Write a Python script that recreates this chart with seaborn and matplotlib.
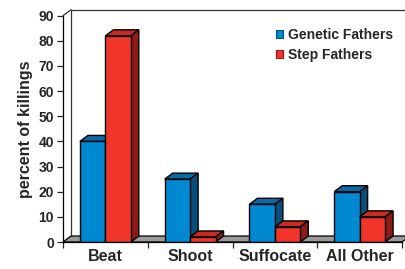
import numpy as np
import pandas as pd
import matplotlib
matplotlib.use("Agg")
import matplotlib.pyplot as plt
from matplotlib.patches import Polygon, Patch
import seaborn as sns

sns.set_style("white")
plt.rcParams['font.family'] = ['Liberation Sans', 'DejaVu Sans']

methods = ['Beat', 'Shoot', 'Suffocate', 'All Other']
genetic = [40, 25, 15, 20]
step = [82, 2, 6, 10]
series = ['Genetic Fathers', 'Step Fathers']

# front / top / side shades for the fake 3d look
blue = ['#0088d1', '#0a6aa6', '#064f7c']
red = ['#f2352b', '#c92a22', '#8c1a15']

df = pd.DataFrame({
    'method': methods * 2,
    'pct': genetic + step,
    'father': [series[0]] * 4 + [series[1]] * 4,
})

fig = plt.figure(figsize=(4.05, 2.69), dpi=100)
ax = fig.add_axes([63 / 405, 27 / 269, 339 / 405, 226.3 / 269])

sns.barplot(data=df, x='method', y='pct', hue='father', palette=[blue[0], red[0]],
            width=0.6, saturation=1, edgecolor='black', linewidth=1.0, ax=ax,
            legend=False)

ax.set_xlim(-0.5, 3.5)
ax.set_ylim(0, 90)

# depth offset, in pixels -> data units
inv = ax.transData.inverted()
p0 = inv.transform((0, 0))
p1 = inv.transform((8, 6))
dx, dy = p1 - p0

shades = [blue, red]
for k, cont in enumerate(ax.containers):
    for bar in cont.patches:
        x0 = bar.get_x()
        x1 = x0 + bar.get_width()
        h = bar.get_height()
        z = 2 + k * 0.2
        bar.set_zorder(z + 0.1)
        top = Polygon([(x0, h), (x1, h), (x1 + dx, h + dy), (x0 + dx, h + dy)],
                      closed=True, facecolor=shades[k][1], edgecolor='black',
                      linewidth=1.0, zorder=z, clip_on=False)
        side = Polygon([(x1, 0), (x1 + dx, dy), (x1 + dx, h + dy), (x1, h)],
                       closed=True, facecolor=shades[k][2], edgecolor='black',
                       linewidth=1.0, zorder=z, clip_on=False)
        ax.add_patch(top)
        ax.add_patch(side)

# floor and back wall
xmin, xmax = -0.5, 3.5
floor = Polygon([(xmin, 0), (xmax, 0), (xmax + dx, dy), (xmin + dx, dy)], closed=True,
                facecolor='#9a9a9a', edgecolor='black', linewidth=0.9, zorder=1,
                clip_on=False)
ax.add_patch(floor)
ax.plot([xmin, xmin + dx], [90, 90 + dy], color='#333333', lw=0.9, clip_on=False, zorder=1)
ax.plot([xmin + dx, xmax + dx], [90 + dy, 90 + dy], color='#333333', lw=0.9,
        clip_on=False, zorder=1)
ax.plot([xmin + dx, xmin + dx], [dy, 90 + dy], color='#333333', lw=0.9,
        clip_on=False, zorder=1)

for s in ['top', 'right']:
    ax.spines[s].set_visible(False)
for s in ['left', 'bottom']:
    ax.spines[s].set_color('black')
    ax.spines[s].set_linewidth(0.9)

ax.set_yticks(range(0, 91, 10))
ax.tick_params(axis='y', which='major', left=True, length=4, width=0.9,
               direction='out', pad=2.5, labelsize=10)
ax.set_xticks([-0.5, 0.5, 1.5, 2.5, 3.5], minor=True)
ax.tick_params(axis='x', which='minor', bottom=True, length=4, width=0.9, direction='out')
ax.tick_params(axis='x', which='major', bottom=False, length=0, pad=5, labelsize=11.5)
for lab in ax.get_xticklabels() + ax.get_yticklabels():
    lab.set_fontweight('bold')

ax.set_xlabel('')
ax.set_ylabel('percent of killings', fontsize=11.5, fontweight='bold', labelpad=4)

handles = [Patch(facecolor=blue[0], edgecolor=blue[2], linewidth=0.8),
           Patch(facecolor=red[0], edgecolor=red[2], linewidth=0.8)]
ax.legend(handles, series, loc='upper right', bbox_to_anchor=(1.012, 1.0), frameon=False,
          prop={'weight': 'bold', 'size': 10}, handlelength=0.5, handleheight=0.5,
          handletextpad=0.4, labelspacing=0.4)

fig.savefig('out.png', dpi=100)
